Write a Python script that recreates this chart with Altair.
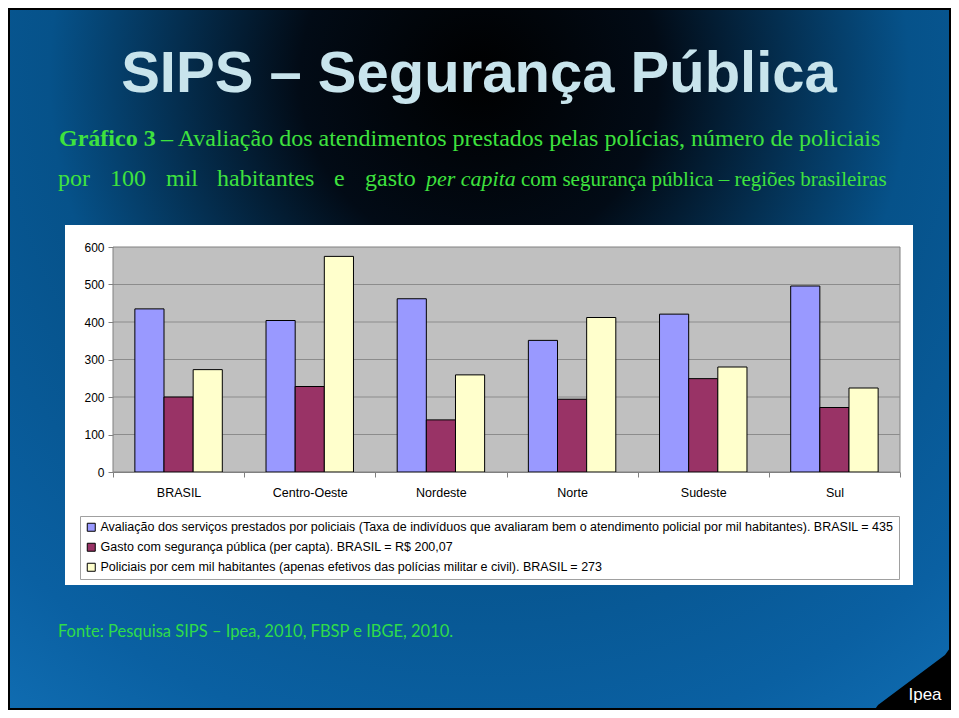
import altair as alt
import pandas as pd

regions = ["BRASIL", "Centro-Oeste", "Nordeste", "Norte", "Sudeste", "Sul"]
series = [
    "Avaliação dos serviços prestados por policiais (Taxa de indivíduos que avaliaram bem o atendimento policial por mil habitantes). BRASIL = 435",
    "Gasto com segurança pública (per capta). BRASIL = R$ 200,07",
    "Policiais por cem mil habitantes (apenas efetivos das polícias militar e civil). BRASIL = 273",
]
avaliacao = [435, 404, 462, 351, 421, 496]
gasto = [200, 228, 139, 194, 249, 172]
policiais = [273, 575, 259, 412, 280, 224]
y_ticks = [0, 100, 200, 300, 400, 500, 600]
colors = ["#9999ff", "#993366", "#ffffcc"]

TITLE = "SIPS – Segurança Pública"
SUB1_BOLD = "Gráfico 3"
SUB1 = "– Avaliação dos atendimentos prestados pelas polícias, número de policiais"
SUB2_WORDS = ["por", "100", "mil", "habitantes", "e", "gasto"]
SUB2_IT = "per capita"
SUB2_B = "com segurança pública – regiões brasileiras"
SOURCE = "Fonte: Pesquisa SIPS – Ipea, 2010, FBSP e IBGE, 2010."
LOGO = "Ipea"

rows = []
for s, vals in zip(series, [avaliacao, gasto, policiais]):
    for r, v in zip(regions, vals):
        rows.append({"regiao": r, "serie": s, "valor": v})
df = pd.DataFrame(rows)

W, H = 787, 225
PAD = {"left": 105, "top": 239, "right": 51, "bottom": 238}
GREEN = "#3ee23e"


def one():
    return alt.Chart(pd.DataFrame({"a": [0]}))


def txt(text, x, y, size, color, font, weight="normal", style="normal", align="left"):
    return alt.Chart(pd.DataFrame({"t": [text]})).mark_text(
        align=align, baseline="alphabetic", fontSize=size, font=font,
        fontWeight=weight, fontStyle=style, color=color
    ).encode(text="t:N", x=alt.value(x), y=alt.value(y))


gradient = {
    "gradient": "radial",
    "x1": 0.5, "y1": 0.2, "r1": 0,
    "x2": 0.5, "y2": 0.2, "r2": 0.95,
    "stops": [
        {"offset": 0, "color": "#000000"},
        {"offset": 0.2, "color": "#020b16"},
        {"offset": 0.48, "color": "#06528a"},
        {"offset": 0.75, "color": "#0a60a2"},
        {"offset": 1, "color": "#1577be"},
    ],
}

bg = one().mark_rect(fill=gradient, stroke="black", strokeWidth=4).encode(
    x=alt.value(-105), x2=alt.value(838), y=alt.value(-239), y2=alt.value(463)
)
box = one().mark_rect(fill="white").encode(
    x=alt.value(-48), x2=alt.value(800), y=alt.value(-22), y2=alt.value(338)
)
plotbg = one().mark_rect(fill="#c0c0c0", stroke="#808080", strokeWidth=1).encode(
    x=alt.value(0), x2=alt.value(W), y=alt.value(0), y2=alt.value(H)
)

yscale = alt.Scale(domain=[0, 600], nice=False)
yaxis = alt.Axis(title=None, values=y_ticks, tickSize=5, tickColor="#808080",
                 domain=False, grid=False, labelPadding=4, labelFontSize=12,
                 labelFont="Liberation Sans", labelColor="black", zindex=1)

grid = alt.Chart(pd.DataFrame({"valor": y_ticks[1:-1]})).mark_rule(
    color="#8c8c8c", strokeWidth=1
).encode(y=alt.Y("valor:Q", scale=yscale, axis=yaxis))

bars = alt.Chart(df).mark_bar(stroke="black", strokeWidth=1).encode(
    x=alt.X("regiao:N", sort=regions, scale=alt.Scale(paddingInner=0, paddingOuter=0),
            axis=alt.Axis(title=None, labelAngle=0, tickBand="extent", tickSize=5,
                          tickColor="#808080", domainColor="#808080", labelPadding=9,
                          labelFontSize=12.5, labelFont="Liberation Sans", labelColor="black",
                          grid=False, zindex=1)),
    xOffset=alt.XOffset("serie:N", sort=series,
                        scale=alt.Scale(paddingInner=0, paddingOuter=0.75)),
    y=alt.Y("valor:Q", scale=yscale, axis=yaxis),
    color=alt.Color("serie:N", sort=series, scale=alt.Scale(domain=series, range=colors),
                    legend=alt.Legend(title=None, orient="none", legendX=-33, legendY=269,
                                      direction="vertical", labelLimit=1000,
                                      labelFontSize=12.5, labelFont="Liberation Sans",
                                      labelColor="black", symbolType="square",
                                      symbolSize=64, symbolStrokeColor="black",
                                      symbolStrokeWidth=1, rowPadding=7, padding=5,
                                      fillColor="white", strokeColor="#a0a0a0",
                                      labelOffset=3, zindex=1)),
)

title = txt(TITLE, 366, -155, 58, "#c8e4ec", "Liberation Sans", weight="bold", align="center")
s1a = txt(SUB1_BOLD, -54, -101, 24, GREEN, "Liberation Serif", weight="bold")
s1b = txt(SUB1, 48, -101, 24, GREEN, "Liberation Serif")
word_x = [-55, -3, 53, 104, 221, 252]
s2_words = [txt(w, x, -61, 24, GREEN, "Liberation Serif") for w, x in zip(SUB2_WORDS, word_x)]
s2b = txt(SUB2_IT, 313, -61, 22, GREEN, "Liberation Serif", style="italic")
s2c = txt(SUB2_B, 408, -61, 21, GREEN, "Liberation Serif")
src = txt(SOURCE, -55, 390, 16.5, "#2fdc4a", "Lato")

logo_path = "M 1 -0.83 L 1 0.83 L -1 0.83 L -0.87 0.65 L 0.87 -0.65 Z"
logo = one().mark_point(shape=logo_path, size=5929, filled=True, color="black",
                        opacity=1, strokeWidth=0).encode(x=alt.value(798.5), y=alt.value(433))
logo_t = txt(LOGO, 812, 453, 17, "white", "Liberation Sans", align="center")

chart = alt.layer(
    bg, box, title, s1a, s1b, *s2_words, s2b, s2c, src, plotbg, grid, bars, logo, logo_t
).properties(
    width=W, height=H, padding=PAD, autosize=alt.AutoSizeParams(type="none")
).configure_view(stroke=None)

chart.save("out.html", embed_options={"renderer": "svg", "actions": False})
